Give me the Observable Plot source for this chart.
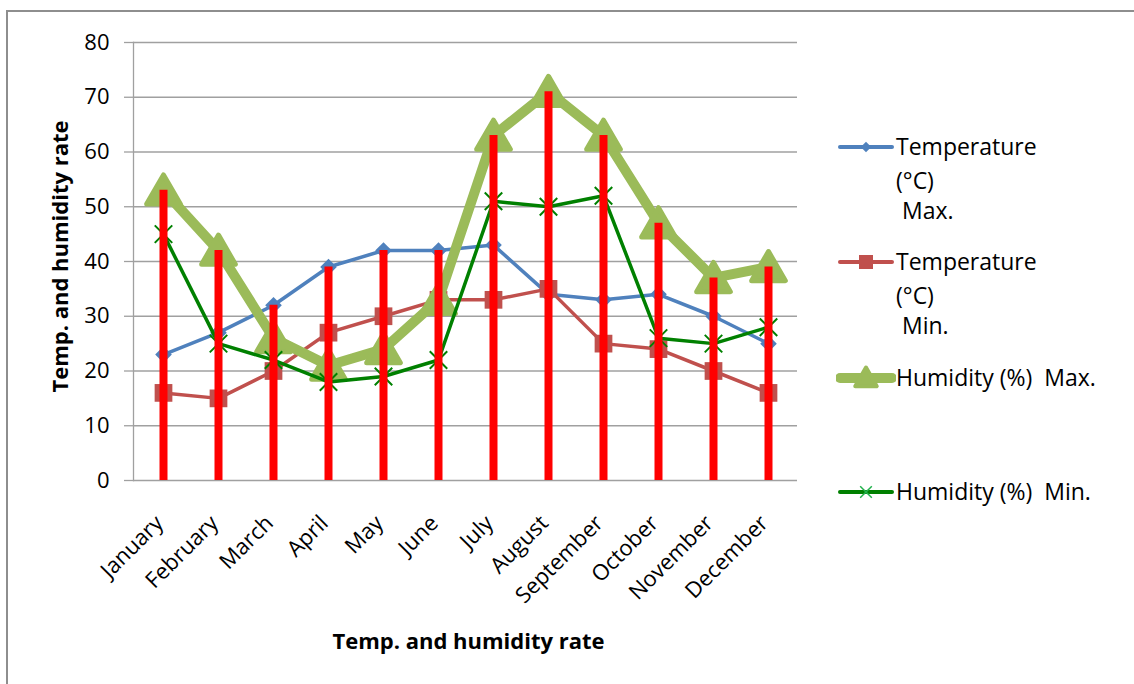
<!DOCTYPE html>
<html>
<head>
<meta charset="utf-8">
<script src="https://cdn.jsdelivr.net/npm/d3@7"></script>
<script src="https://cdn.jsdelivr.net/npm/@observablehq/plot@0.6"></script>
<style>
  html, body { margin: 0; padding: 0; background: #fff; }
  #wrap { position: relative; width: 1134px; height: 684px; overflow: hidden; background: #fff; font-family: "Open Sans", Lato, sans-serif; }
  #border { position: absolute; left: 6px; top: 10px; width: 1200px; height: 800px; border: 2px solid #8e8e8e; box-sizing: border-box; }
  #chart { position: absolute; left: 0; top: 0; }
  .leg { position: absolute; font-size: 23px; color: #000; white-space: pre; line-height: 1; }
  .sw { position: absolute; }
</style>
</head>
<body>
<div id="wrap">
  <div id="border"></div>
  <div id="chart"></div>
  <div id="legend"></div>
</div>
<script>
// Monthly temperature and humidity
const months = ["January", "February", "March", "April", "May", "June", "July", "August", "September", "October", "November", "December"];
const tempMax = [23, 27, 32, 39, 42, 42, 43, 34, 33, 34, 30, 25];
const tempMin = [16, 15, 20, 27, 30, 33, 33, 35, 25, 24, 20, 16];
const humMax  = [53, 42, 26, 21, 24, 33, 63, 71, 63, 47, 37, 39];
const humMin  = [45, 25, 22, 18, 19, 22, 51, 50, 52, 26, 25, 28];
const yTicks  = [0, 10, 20, 30, 40, 50, 60, 70, 80];

const seriesNames = ["Temperature\n(°C)\n Max.", "Temperature\n(°C)\n Min.", "Humidity (%)  Max.", "Humidity (%)  Min."];
const axisTitle = "Temp. and humidity rate";

const colors = { tMax: "#4F81BD", tMin: "#C0504D", hMax: "#9BBB59", hMin: "#008000", hiLo: "#FF0000" };
const gridColor = "#a0a0a0";
const font = "'Open Sans', Lato, sans-serif";

const rows = months.map((m, i) => ({
  month: m,
  tempMax: tempMax[i],
  tempMin: tempMin[i],
  humMax: humMax[i],
  humMin: humMin[i],
  high: Math.max(tempMax[i], tempMin[i], humMax[i], humMin[i])
}));

const chart = Plot.plot({
  width: 820,
  height: 684,
  marginLeft: 133,
  marginRight: 23,
  marginTop: 42,
  marginBottom: 204,
  style: { fontFamily: font, fontSize: "22px", color: "#000", background: "transparent" },
  x: { type: "point", domain: months, padding: 0.5 },
  y: { domain: [0, 80], ticks: yTicks },
  marks: [
    Plot.gridY(yTicks, { stroke: gridColor, strokeOpacity: 1, strokeWidth: 1.3 }),
    Plot.axisY(yTicks, { tickSize: 9, tickPadding: 15, stroke: gridColor, strokeWidth: 1.3, fontSize: 22, label: null }),
    Plot.frame({ anchor: "left", stroke: gridColor, strokeWidth: 1.3 }),
    Plot.axisX({ tickSize: 0, tickRotate: -45, tickPadding: 39, dx: -4, fontSize: 22, label: null }),
    Plot.text([axisTitle], { frameAnchor: "bottom", dx: 3, dy: 168, fontWeight: "bold", fontSize: 22 }),
    Plot.text([axisTitle], { frameAnchor: "left", textAnchor: "middle", dx: -73, dy: -5, rotate: -90, fontWeight: "bold", fontSize: 22 }),

    // Temperature max
    Plot.lineY(rows, { x: "month", y: "tempMax", stroke: colors.tMax, strokeWidth: 3.5 }),
    Plot.dot(rows, { x: "month", y: "tempMax", symbol: "diamond2", r: 7.5, fill: colors.tMax }),
    // Temperature min
    Plot.lineY(rows, { x: "month", y: "tempMin", stroke: colors.tMin, strokeWidth: 3.5 }),
    Plot.dot(rows, { x: "month", y: "tempMin", symbol: "square", r: 10, fill: colors.tMin }),
    // Humidity max
    Plot.lineY(rows, { x: "month", y: "humMax", stroke: colors.hMax, strokeWidth: 10, strokeLinejoin: "round" }),
    Plot.dot(rows, { x: "month", y: "humMax", symbol: "triangle", r: 12.5, dy: 4, fill: colors.hMax, stroke: colors.hMax, strokeWidth: 5, strokeLinejoin: "round" }),
    // Humidity min
    Plot.lineY(rows, { x: "month", y: "humMin", stroke: colors.hMin, strokeWidth: 3.5 }),
    Plot.dot(rows, { x: "month", y: "humMin", symbol: "times", r: 8, stroke: colors.hMin, strokeWidth: 2 }),

    // high-low lines
    Plot.ruleX(rows, { x: "month", y1: 0, y2: "high", stroke: colors.hiLo, strokeWidth: 8 })
  ]
});
document.getElementById("chart").appendChild(chart);

// Legend
const legend = document.getElementById("legend");
const legendItems = [
  { name: seriesNames[0], color: colors.tMax, lw: 4, marker: "diamond", y: 147 },
  { name: seriesNames[1], color: colors.tMin, lw: 4, marker: "square", y: 262 },
  { name: seriesNames[2], color: colors.hMax, lw: 10, marker: "triangle", y: 378 },
  { name: seriesNames[3], color: colors.hMin, lw: 4, marker: "times", y: 492 }
];
const lineGap = 34;
legendItems.forEach(it => {
  const svg = d3.create("svg").attr("class", "sw").attr("width", 60).attr("height", 40)
    .style("left", "836px").style("top", (it.y - 20) + "px");
  svg.append("line").attr("x1", 4).attr("x2", 56).attr("y1", 20).attr("y2", 20)
    .attr("stroke", it.color).attr("stroke-width", it.lw).attr("stroke-linecap", "round");
  const g = svg.append("g").attr("transform", "translate(30,20)");
  if (it.marker === "diamond") g.append("path").attr("d", d3.symbol(d3.symbolDiamond2, 70)()).attr("fill", it.color);
  if (it.marker === "square") g.append("rect").attr("x", -7).attr("y", -7).attr("width", 14).attr("height", 14).attr("fill", it.color);
  if (it.marker === "triangle") g.append("path").attr("d", d3.symbol(d3.symbolTriangle, 200)()).attr("transform", "translate(0,2)").attr("fill", it.color).attr("stroke", it.color).attr("stroke-width", 4).attr("stroke-linejoin", "round");
  if (it.marker === "times") g.append("path").attr("d", d3.symbol(d3.symbolTimes, 90)()).attr("stroke", "#22b14c").attr("stroke-width", 1.5).attr("fill", "none");
  legend.appendChild(svg.node());

  it.name.split("\n").forEach((line, k) => {
    const d = document.createElement("div");
    d.className = "leg";
    d.textContent = line;
    d.style.left = "896px";
    d.style.top = (it.y - 12 + k * lineGap - (k === 2 ? 4 : 0)) + "px";
    legend.appendChild(d);
  });
});
</script>
</body>
</html>
